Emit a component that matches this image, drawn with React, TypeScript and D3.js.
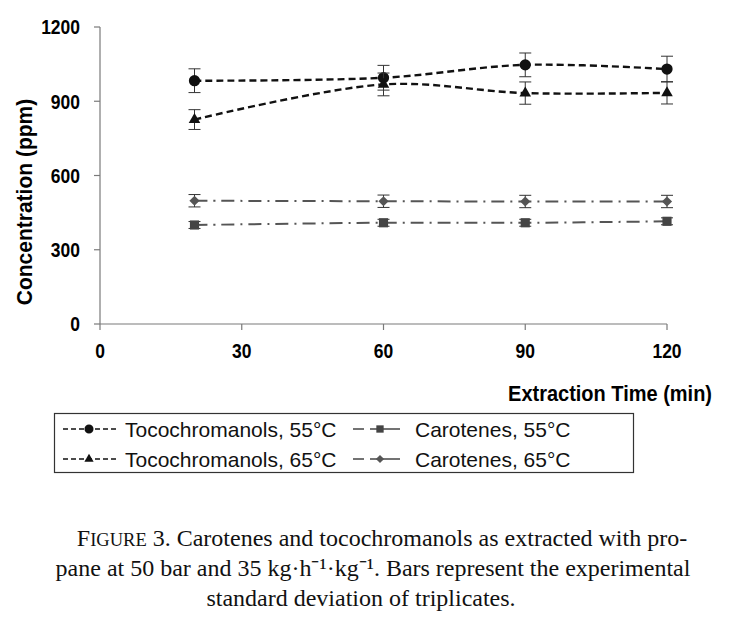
import React, { useEffect, useRef } from 'react';
import * as d3 from 'd3';

const times = [20, 60, 90, 120];
const toco55 = [983, 995, 1047, 1030];
const toco55Err = [48, 50, 48, 52];
const toco65 = [826, 968, 933, 934];
const toco65Err = [40, 46, 45, 45];
const car55 = [400, 409, 409, 415];
const car55Err = [14, 14, 14, 14];
const car65 = [498, 496, 495, 495];
const car65Err = [25, 25, 25, 25];

const xTicks = [0, 30, 60, 90, 120];
const yTicks = [0, 300, 600, 900, 1200];

const seriesNames = ['Tocochromanols, 55°C', 'Tocochromanols, 65°C', 'Carotenes, 55°C', 'Carotenes, 65°C'];

const W = 729;
const H = 636;

const App = (): React.ReactElement => {
  const ref = useRef<SVGGElement>(null);

  useEffect(() => {
    if (!ref.current) return;
    const svg = d3.select(ref.current);
    svg.selectAll('*').remove();

    const x = d3.scaleLinear().domain([0, 120]).range([100, 667]);
    const y = d3.scaleLinear().domain([0, 1200]).range([324, 27]);
    const sans = '"Liberation Sans", Arial, sans-serif';

    const series = [
      { name: seriesNames[0], vals: toco55, err: toco55Err, symbol: 'circle', color: '#111', line: '#111', dash: '7,4', lw: 2.4 },
      { name: seriesNames[1], vals: toco65, err: toco65Err, symbol: 'triangle', color: '#111', line: '#111', dash: '7,4', lw: 2.4 },
      { name: seriesNames[2], vals: car55, err: car55Err, symbol: 'square', color: '#444', line: '#555', dash: '13,6,2,6', lw: 2 },
      { name: seriesNames[3], vals: car65, err: car65Err, symbol: 'diamond', color: '#555', line: '#555', dash: '13,6,2,6', lw: 2 },
    ];

    const symbolPath = (kind: string) => {
      if (kind === 'circle') return d3.symbol(d3.symbolCircle, 100)();
      if (kind === 'triangle') return d3.symbol(d3.symbolTriangle, 58)();
      if (kind === 'square') return d3.symbol(d3.symbolSquare, 84)();
      return d3.symbol(d3.symbolSquare, 52)();
    };
    const symbolRot = (kind: string) => (kind === 'diamond' ? ' rotate(45)' : '');

    // axes
    const axes = svg.append('g').attr('stroke', '#7a7a7a').attr('stroke-width', 1.2);
    axes.append('line').attr('x1', x(0)).attr('x2', x(0)).attr('y1', y(1200)).attr('y2', y(0));
    axes.append('line').attr('x1', x(0)).attr('x2', x(120)).attr('y1', y(0)).attr('y2', y(0));
    yTicks.forEach((t) => {
      axes.append('line').attr('x1', x(0) - 6).attr('x2', x(0)).attr('y1', y(t)).attr('y2', y(t));
    });
    xTicks.forEach((t) => {
      axes.append('line').attr('x1', x(t)).attr('x2', x(t)).attr('y1', y(0)).attr('y2', y(0) + 6);
    });

    svg
      .append('g')
      .selectAll('text')
      .data(yTicks)
      .join('text')
      .attr('transform', (d) => `translate(${x(0) - 20},${y(d)}) scale(0.92,1.08)`)
      .attr('dy', '0.36em')
      .attr('text-anchor', 'end')
      .attr('font-family', sans)
      .attr('font-weight', 'bold')
      .attr('font-size', 19)
      .text((d) => d);

    svg
      .append('g')
      .selectAll('text')
      .data(xTicks)
      .join('text')
      .attr('transform', (d) => `translate(${x(d)},358) scale(0.92,1.08)`)
      .attr('text-anchor', 'middle')
      .attr('font-family', sans)
      .attr('font-weight', 'bold')
      .attr('font-size', 19)
      .text((d) => d);

    svg
      .append('text')
      .attr('transform', 'translate(32,202) rotate(-90) scale(1.05,1.1)')
      .attr('text-anchor', 'middle')
      .attr('font-family', sans)
      .attr('font-weight', 'bold')
      .attr('font-size', 20)
      .text('Concentration (ppm)');

    svg
      .append('text')
      .attr('transform', 'translate(712,401) scale(1,1.08)')
      .attr('text-anchor', 'end')
      .attr('font-family', sans)
      .attr('font-weight', 'bold')
      .attr('font-size', 20)
      .text('Extraction Time (min)');

    // series
    const line = d3
      .line<number>()
      .x((_, i) => x(times[i]))
      .y((d) => y(d))
      .curve(d3.curveCatmullRom.alpha(0.5));

    series.forEach((s) => {
      const g = svg.append('g');
      g.append('path')
        .attr('d', line(s.vals))
        .attr('fill', 'none')
        .attr('stroke', s.line)
        .attr('stroke-width', s.lw)
        .attr('stroke-dasharray', s.dash);

      const eb = g.append('g').attr('stroke', '#333').attr('stroke-width', 1);
      s.vals.forEach((v, i) => {
        const cx = x(times[i]);
        const top = y(v + s.err[i]);
        const bot = y(v - s.err[i]);
        eb.append('line').attr('x1', cx).attr('x2', cx).attr('y1', top).attr('y2', bot);
        eb.append('line').attr('x1', cx - 6).attr('x2', cx + 6).attr('y1', top).attr('y2', top);
        eb.append('line').attr('x1', cx - 6).attr('x2', cx + 6).attr('y1', bot).attr('y2', bot);
      });

      g.selectAll('path.mk')
        .data(s.vals)
        .join('path')
        .attr('class', 'mk')
        .attr('d', symbolPath(s.symbol))
        .attr('transform', (d, i) => `translate(${x(times[i])},${y(d)})${symbolRot(s.symbol)}`)
        .attr('fill', s.color);
    });

    // legend
    const lg = svg.append('g');
    lg.append('rect')
      .attr('x', 54.5)
      .attr('y', 413.5)
      .attr('width', 579)
      .attr('height', 59)
      .attr('fill', '#fff')
      .attr('stroke', '#333')
      .attr('stroke-width', 1.2);

    const rows = [429, 459];
    const legendItems = [
      { s: series[0], row: 0, col: 0 },
      { s: series[1], row: 1, col: 0 },
      { s: series[2], row: 0, col: 1 },
      { s: series[3], row: 1, col: 1 },
    ];
    legendItems.forEach(({ s, row, col }) => {
      const cy = rows[row];
      const x0 = col === 0 ? 63 : 353;
      const x1 = col === 0 ? 117 : 400;
      const mx = col === 0 ? 89 : 380;
      const tx = col === 0 ? 125 : 415;
      lg.append('line')
        .attr('x1', x0)
        .attr('x2', x1)
        .attr('y1', cy)
        .attr('y2', cy)
        .attr('stroke', col === 0 ? '#111' : '#444')
        .attr('stroke-width', 1.6)
        .attr('stroke-dasharray', col === 0 ? '5,3' : null);
      if (col === 1) {
        lg.append('rect').attr('x', 364).attr('y', cy - 1.5).attr('width', 6).attr('height', 3).attr('fill', '#fff');
      }
      lg.append('path')
        .attr('d', symbolPath(s.symbol))
        .attr('transform', `translate(${mx},${cy}) scale(0.8)${symbolRot(s.symbol)}`)
        .attr('fill', s.color);
      lg.append('text')
        .attr('x', tx)
        .attr('y', cy)
        .attr('dy', '0.36em')
        .attr('font-family', sans)
        .attr('font-size', 21)
        .attr('fill', '#111')
        .text(s.name);
    });
  }, []);

  const serif = '"Liberation Serif", "Times New Roman", serif';
  return (
    <svg width={W} height={H} style={{ position: 'absolute', left: 0, top: 0, background: '#fff' }}>
      <g ref={ref} />
      <g fontFamily={serif} fontSize={24} textAnchor="middle" fill="#111">
        <text x={382} y={546}>
          F<tspan fontSize={18.5}>IGURE</tspan> 3. Carotenes and tocochromanols as extracted with pro-
        </text>
        <text x={373} y={576}>pane at 50 bar and 35 kg·h⁻¹·kg⁻¹. Bars represent the experimental</text>
        <text x={361} y={606}>standard deviation of triplicates.</text>
      </g>
    </svg>
  );
};

export default App;
